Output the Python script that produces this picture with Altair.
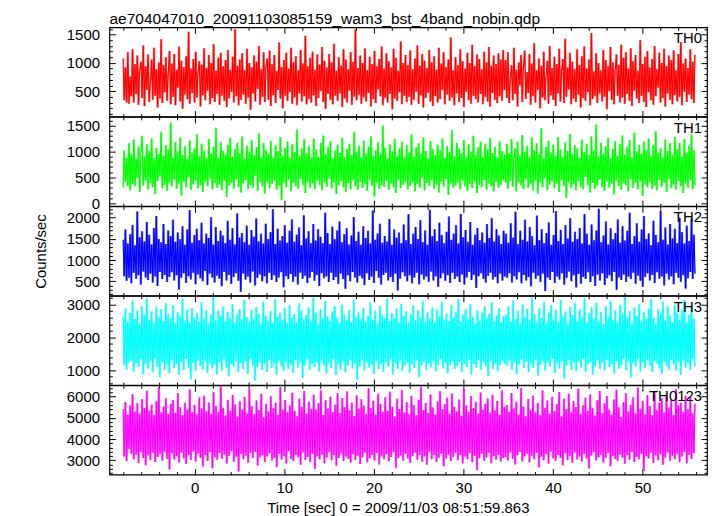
import altair as alt
import numpy as np
import pandas as pd

TITLE = "ae704047010_20091103085159_wam3_bst_4band_nobin.qdp"
X_TITLE = "Time [sec] 0 = 2009/11/03 08:51:59.863"
Y_TITLE = "Counts/sec"
FONT = "Liberation Sans"
T_START, T_END = -8.0, 55.87

th0 = [1080, 340, 920, 300, 1190, 280, 760, 410, 1240, 300, 980, 450, 1130, 260, 870, 1020, 380, 1310, 240, 940, 520,
       1150, 310, 690, 1060, 350, 1270, 420, 890, 210, 1010, 370, 1420, 290, 960, 480, 1100, 330, 830, 1210, 270,
       990, 400, 1160, 250, 880, 560, 1290, 320, 1040, 190, 930, 440, 1120, 360, 1550, 280, 900, 470, 1070, 300,
       1200, 390, 850, 1030, 230, 970, 430, 1260, 340, 910, 510, 1140, 270, 1000, 380, 1330, 310, 860, 450, 1090,
       260, 1180, 420, 940, 330, 1050, 220, 1230, 370, 880, 490, 1110, 300, 1600, 410, 950, 250, 1060, 350, 1170,
       440, 870, 280, 1250, 390, 1000, 170, 920, 460, 1130, 320, 1020, 540, 1300, 260, 890, 400, 1190, 310, 960,
       1080, 350, 1220, 240, 980, 430, 1140, 290, 860, 520, 1360, 370, 930, 200, 1050, 420, 1180, 330, 900, 480,
       1270, 280, 1010, 390, 1120, 250, 870, 460, 1230, 320, 990, 410, 1480, 270, 940, 360, 1090, 300, 1200, 430,
       880, 240, 1150, 380, 970, 500, 1280, 310, 1040, 190, 920, 450, 1160, 350, 1010, 270, 1340, 420, 860, 330,
       1100, 460, 950, 220, 1240, 370, 1060, 300, 890, 510, 1190, 260, 1020, 400, 1590, 340, 910, 440, 1130, 280,
       1000, 390, 1260, 320, 870, 470, 1110, 230, 980, 360, 1210, 290, 940, 530, 1070, 410, 1290, 250, 900, 380,
       1170, 300, 1030, 450, 920, 180, 1250, 370, 1090, 330, 860, 480, 1380, 270, 1000, 420, 1140, 310, 960, 400,
       1220, 260, 890, 350, 1080, 490, 1310, 280, 950, 430, 1160, 210, 1040, 380, 910, 470, 1230, 320, 1010, 240,
       1120, 410, 880, 300, 1270, 360, 990, 520, 1190, 270, 930, 440, 1060, 330, 1450, 390, 870, 250, 1100, 460,
       960, 310, 1240, 380, 1030, 220, 900, 490, 1180, 340, 1000, 280, 1320, 420, 940, 360, 1150, 300, 1070, 450,
       890, 270, 1200, 400, 1010, 320, 1280, 230, 950, 470, 1130, 350, 980, 290, 1170, 410, 1060, 330, 1230, 520,
       1050, 380, 1190, 290, 720, 960, 340, 1270, 450, 880, 230, 1010, 600, 1140, 310, 930, 1220, 360, 840, 470,
       1160, 260, 990, 410, 1350, 300, 870, 520, 1080, 200, 950, 390, 1200, 340, 780, 1040, 280, 1300, 430, 910,
       350, 1110, 240, 980, 460, 1250, 320, 860, 1070, 290, 1430, 400, 920, 530, 1180, 270, 1020, 370, 890, 310,
       1240, 440, 960, 210, 1120, 380, 1290, 330, 900, 480, 1060, 250, 1530, 360, 850, 410, 1170, 290, 1000, 460,
       870, 320, 1230, 400, 1050, 180, 940, 500, 1280, 350, 1010, 270, 880, 1150, 420, 970, 300, 1320, 390, 1090,
       280, 1190, 450, 900, 330, 1260, 240, 1030, 510, 1140, 370, 860, 290, 1400, 420, 980, 310, 1110, 220, 1210,
       480, 920, 340, 1070, 260, 1300, 410, 890, 560, 1180, 300, 1000, 380, 1250, 230, 940, 460, 1130, 350, 1050,
       270, 1220, 430, 870, 320, 1160, 400, 1370, 250, 990, 490, 1080, 310, 910, 440, 1240, 360, 1020, 290, 1140]

th1 = [300, 1020, 410, 880, 330, 1160, 250, 940, 370, 1230, 330, 860, 490, 1090, 220, 980, 1300, 350, 900, 440, 1140,
       270, 1010, 390, 1250, 310, 870, 180, 1070, 430, 950, 520, 1380, 290, 920, 360, 1120, 240, 1040, 400, 1560,
       330, 890, 460, 1180, 280, 1000, 380, 1270, 150, 930, 420, 1100, 310, 860, 500, 1210, 260, 980, 370, 1060,
       440, 1330, 290, 910, 350, 1150, 220, 1020, 410, 870, 330, 1240, 480, 960, 270, 1090, 390, 1460, 300, 880,
       360, 1180, 250, 1010, 430, 940, 120, 1130, 340, 1260, 400, 900, 280, 1050, 460, 1170, 320, 970, 210, 1290,
       380, 860, 450, 1110, 270, 1000, 350, 1220, 300, 930, 530, 1080, 240, 1350, 410, 890, 330, 1160, 190, 1030,
       420, 950, 290, 1200, 370, 880, 440, 1120, 260, 1010, 340, 1280, 60, 920, 400, 1070, 310, 1190, 460, 870,
       230, 1140, 390, 990, 330, 1420, 280, 910, 470, 1060, 350, 1230, 200, 960, 420, 1100, 300, 880, 380, 1250,
       270, 1040, 440, 900, 360, 1170, 250, 1310, 410, 940, 320, 1080, 480, 1200, 290, 870, 400, 1020, 180, 1130,
       350, 970, 430, 1260, 310, 890, 220, 1050, 390, 1150, 270, 930, 450, 1370, 330, 1000, 260, 1110, 410, 880,
       300, 1210, 370, 960, 240, 1090, 460, 1290, 340, 910, 130, 1030, 400, 1180, 280, 940, 350, 1500, 320, 1070,
       430, 870, 260, 1140, 380, 1000, 310, 1240, 200, 920, 450, 1060, 290, 1190, 360, 890, 420, 1120, 270, 980,
       340, 1330, 410, 900, 230, 1080, 370, 1160, 300, 950, 490, 1270, 250, 1010, 390, 870, 330, 1200, 440, 1050,
       280, 930, 360, 1130, 210, 1020, 420, 1250, 320, 880, 470, 1100, 160, 990, 380, 1410, 300, 910, 350, 1170,
       400, 1060, 270, 960, 440, 1220, 330, 890, 240, 1140, 370, 1000, 290, 1300, 420, 930, 200, 1080, 360, 1190,
       310, 900, 450, 1150, 260, 1040, 380, 1260, 330, 970, 230, 1090, 410, 880, 300, 1200, 350, 1010, 440, 940,
       390, 1150, 280, 970, 430, 1240, 320, 880, 1060, 230, 1190, 410, 930, 350, 1320, 270, 1000, 460, 1110, 300,
       890, 370, 1270, 250, 1030, 440, 1160, 190, 950, 400, 1450, 310, 870, 480, 1090, 260, 1210, 360, 980, 420,
       1130, 290, 920, 380, 1280, 220, 1040, 450, 900, 330, 1180, 100, 1010, 410, 1340, 300, 940, 370, 1120, 250,
       1060, 430, 880, 320, 1230, 270, 990, 510, 1150, 350, 930, 210, 1290, 390, 1020, 280, 1520, 340, 900, 460,
       1170, 310, 960, 240, 1100, 420, 1260, 300, 870, 380, 1050, 170, 1200, 440, 920, 330, 1140, 260, 1310, 400,
       940, 350, 1080, 230, 1220, 470, 890, 300, 1360, 390, 1000, 270, 1130, 420, 960, 140, 1190, 360, 1040, 310,
       1250, 410, 910, 280, 1120, 340, 1390, 250, 980, 450, 1070, 320, 880, 390, 1230, 220, 1010, 470, 1160, 290,
       930, 360, 1280, 260, 1050, 430, 1170, 330, 900, 200, 1240, 380, 970, 300, 1110, 440, 1330, 270, 1020, 350]

th2 = [1480, 620, 1720, 510, 1390, 580, 1610, 450, 1830, 700, 1350, 560, 2150, 640, 1540, 420, 1680, 730, 1440, 590, 1900,
       530, 1600, 680, 1370, 470, 1760, 610, 2040, 390, 1500, 720, 1420, 550, 1850, 650, 1380, 480, 1700, 600, 1560,
       710, 1950, 520, 1430, 640, 1650, 300, 1490, 580, 1800, 690, 1360, 460, 1720, 620, 2180, 540, 1410, 700, 1590,
       430, 1740, 660, 1470, 570, 1880, 500, 1390, 740, 1620, 410, 1520, 680, 2010, 590, 1360, 470, 1780, 630, 1450,
       560, 1690, 380, 1580, 720, 1400, 520, 1930, 650, 1480, 440, 1750, 600, 1370, 690, 2100, 510, 1530, 250, 1640,
       680, 1420, 540, 1810, 610, 1360, 470, 1710, 730, 1550, 400, 1980, 580, 1440, 660, 1620, 500, 1390, 620, 1860,
       450, 1500, 700, 1660, 530, 2200, 640, 1380, 480, 1740, 590, 1460, 710, 1570, 360, 1820, 620, 1410, 550, 1690,
       670, 1960, 490, 1430, 610, 1600, 420, 1770, 700, 1350, 560, 2060, 630, 1510, 460, 1680, 580, 1400, 720, 1850,
       510, 1460, 650, 1730, 390, 1550, 690, 1400, 570, 2120, 620, 1640, 480, 1380, 700, 1790, 530, 1490, 600, 1700,
       440, 1910, 680, 1420, 550, 1610, 320, 1750, 640, 1370, 500, 1580, 720, 2020, 590, 1450, 470, 1670, 630, 1360,
       570, 1800, 410, 1520, 690, 1690, 530, 1390, 610, 2170, 460, 1480, 740, 1630, 580, 1860, 420, 1410, 650, 1570,
       700, 1440, 520, 1970, 600, 1360, 480, 1720, 680, 1530, 280, 1650, 560, 1400, 710, 1840, 620, 1470, 500, 2080,
       640, 1380, 450, 1620, 590, 1780, 700, 1500, 430, 1940, 660, 1420, 540, 1700, 610, 1360, 490, 2190, 730, 1560,
       520, 1730, 620, 1450, 370, 1880, 570, 1590, 690, 1400, 510, 1670, 640, 2030, 460, 1480, 700, 1620, 550, 1820,
       610, 1390, 480, 2090, 660, 1540, 420, 1710, 590, 1430, 720, 1900, 530, 1360, 650, 1600, 340, 1760, 620, 1470,
       690, 1650, 560, 1410, 470, 1850, 630, 1520, 700, 1990, 540, 1440, 600, 1730, 450, 1580, 680, 1380, 520, 1690,
       610, 1620, 580, 1410, 690, 1870, 470, 1530, 620, 2140, 540, 1380, 710, 1690, 450, 1480, 650, 1950, 520, 1440, 600,
       1780, 380, 1560, 700, 1350, 560, 2050, 630, 1470, 490, 1730, 680, 1400, 270, 1640, 590, 1890, 530, 1360, 720,
       1590, 460, 2160, 610, 1450, 540, 1710, 690, 1380, 420, 1820, 580, 1510, 730, 1990, 500, 1430, 640, 1670, 350,
       1500, 670, 1760, 440, 1390, 600, 2080, 550, 1620, 710, 1360, 480, 1840, 620, 1470, 390, 1700, 660, 2210, 520,
       1420, 690, 1580, 410, 1910, 570, 1370, 640, 1750, 500, 1490, 720, 1640, 300, 1960, 590, 1410, 530, 1800, 660,
       1460, 480, 1690, 610, 2120, 550, 1380, 700, 1560, 440, 1870, 630, 1430, 510, 1720, 370, 2040, 600, 1500, 690,
       1630, 520, 1350, 650, 1930, 460, 1590, 710, 1420, 560, 2170, 610, 1480, 400, 1770, 680, 1370, 540, 1850, 620,
       1510, 430, 1740, 700, 1400, 580, 2000, 490, 1660, 640, 1390, 330, 1810, 570, 1450, 720, 1980, 550, 1600, 680]

th3 = [2620, 1150, 2880, 1020, 2470, 1240, 2750, 1280, 3120, 960, 2560, 1210, 2830, 1090, 2400, 1330, 2960, 880, 2680, 1180, 3200,
       1040, 2540, 1260, 2790, 930, 2450, 1350, 2920, 1100, 2610, 780, 2860, 1230, 2500, 1010, 3050, 1170, 2720, 900, 2580,
       1300, 2990, 1060, 2430, 1190, 2770, 850, 2640, 1250, 3180, 1000, 2510, 1340, 2850, 1080, 2460, 720, 2900, 1220, 2600,
       970, 2740, 1290, 2480, 1130, 3070, 1020, 2570, 1270, 2820, 910, 2420, 1200, 2690, 1050, 3230, 1160, 2530, 870, 2810,
       1240, 2650, 990, 2940, 1320, 2490, 1070, 2780, 820, 2590, 1180, 3010, 1110, 2440, 1280, 2700, 950, 2870, 1210, 2550,
       1030, 3150, 1260, 2620, 890, 2480, 1340, 2840, 1150, 2560, 680, 2930, 1090, 2720, 1230, 2410, 1000, 3090, 1190, 2660,
       940, 2510, 1310, 2800, 1060, 2450, 1200, 3170, 860, 2630, 1270, 2750, 1120, 2520, 980, 2890, 1250, 2430, 1040, 2980,
       1170, 2590, 910, 2710, 1300, 2470, 1080, 3040, 1220, 2820, 760, 2550, 1140, 2680, 1330, 2910, 1010, 2490, 1190, 3220,
       1090, 2760, 1240, 2420, 960, 2860, 1280, 2580, 1130, 3100, 900, 2640, 1210, 2500, 1060, 2790, 1320, 2950, 840, 2610,
       1180, 2450, 1020, 3000, 1260, 2700, 930, 2530, 1140, 2840, 1290, 2470, 1050, 3140, 1200, 2620, 700, 2770, 1110, 2560,
       1300, 2900, 990, 2480, 1230, 2660, 1070, 3060, 1160, 2540, 880, 2810, 1270, 2430, 1030, 2960, 1190, 2690, 950, 2600,
       1250, 3190, 1100, 2510, 1320, 2740, 870, 2580, 1210, 2880, 1040, 2460, 1280, 3030, 980, 2650, 1150, 2800, 1230, 2440,
       920, 2700, 1190, 2970, 1060, 2520, 1300, 2830, 790, 2610, 1140, 3110, 1250, 2480, 1010, 2760, 1200, 2570, 1080, 2920,
       1270, 2450, 960, 2850, 1170, 2640, 1330, 3080, 1050, 2530, 1220, 2710, 900, 2490, 1150, 2990, 1260, 2600, 1030, 2780,
       1120, 3160, 1240, 2470, 940, 2690, 1190, 2860, 1090, 2550, 1310, 3020, 860, 2630, 1180, 2420, 1070, 2820, 1290, 2510,
       1000, 2750, 1230, 2940, 1110, 2580, 820, 2720, 1260, 3070, 1040, 2500, 1200, 2670, 970, 2890, 1150, 2460, 1280, 2640,
       1190, 2690, 1140, 2950, 1290, 2480, 1010, 3130, 1220, 2560, 880, 2810, 1180, 2440, 1320, 3000, 1060, 2620, 1250, 2870, 940,
       2520, 1200, 3210, 1070, 2700, 1310, 2460, 830, 2890, 1160, 2590, 1270, 3080, 990, 2430, 1230, 2760, 1100, 2980, 1340,
       2550, 910, 2840, 1190, 2470, 1050, 3150, 1280, 2640, 750, 2790, 1130, 2420, 1300, 2930, 1020, 2680, 1210, 3040, 970,
       2500, 1260, 2850, 1080, 2610, 1330, 3190, 950, 2450, 1170, 2740, 1240, 2920, 860, 2570, 1120, 3060, 1290, 2480, 1030,
       2780, 1220, 2410, 990, 2960, 1310, 2630, 1090, 3110, 1180, 2530, 900, 2820, 1260, 2460, 1040, 2990, 1150, 2710, 1330,
       3230, 1000, 2580, 1270, 2800, 770, 2440, 1200, 2910, 1110, 2650, 1320, 3020, 960, 2490, 1240, 2770, 1060, 2560, 1300,
       2880, 1130, 3170, 930, 2600, 1280, 2430, 1190, 2860, 1050, 2720, 890, 3090, 1250, 2510, 1140, 2940, 1020, 2670, 1310,
       2470, 1170, 3000, 980, 2750, 1230, 2540, 850, 2830, 1290, 3140, 1080, 2450, 1210, 2690, 1000, 2970, 1330, 2580, 1120]

th0123 = [5420, 3180, 5750, 2950, 5160, 3530, 5580, 3310, 6120, 3040, 5300, 3260, 5690, 2870, 5210, 3390, 5880, 3100, 5470, 2760, 6280,
          3220, 5350, 3000, 5620, 3350, 5140, 2910, 5790, 3150, 6430, 3280, 5260, 2980, 5540, 3400, 5930, 3070, 5180, 2560, 5660,
          3320, 5850, 3030, 5240, 3190, 6170, 2890, 5500, 3360, 5130, 3080, 5720, 2820, 5400, 3250, 6340, 3010, 5280, 3410, 5610,
          2940, 5170, 3300, 5960, 3120, 5440, 2700, 6050, 3230, 5310, 2960, 5730, 3380, 5190, 2620, 6210, 3140, 5560, 3020, 5270,
          3340, 6510, 3060, 5480, 3270, 5110, 2840, 5840, 3200, 5350, 3420, 6080, 2930, 5630, 3160, 5060, 2470, 5780, 3290, 5400,
          3050, 5990, 3210, 5220, 2880, 6370, 3350, 5550, 3090, 5180, 3400, 5820, 2750, 5370, 3130, 6130, 3240, 5030, 2910, 5670,
          3170, 5300, 3330, 6020, 2990, 5460, 3100, 5710, 2680, 5150, 3290, 6460, 3030, 5390, 3200, 5850, 2850, 5260, 3410, 5590,
          3060, 6190, 2960, 5320, 3240, 5080, 3140, 5910, 2780, 5510, 3370, 6270, 3010, 5210, 3160, 5760, 2920, 5430, 3310, 6090,
          2590, 5380, 3180, 5690, 3050, 6310, 3270, 5140, 2860, 5830, 3130, 5460, 3390, 6000, 3000, 5280, 3230, 5620, 2740, 6170,
          3100, 5230, 3320, 5940, 2970, 5500, 3160, 6250, 3070, 5350, 2890, 5720, 3280, 5090, 3010, 6060, 3210, 5440, 2820, 5880,
          3140, 5580, 3360, 5200, 2900, 6400, 3090, 5470, 3250, 5810, 2990, 5160, 3340, 6140, 2800, 5650, 3190, 5290, 3040, 5970,
          3280, 5340, 2950, 6230, 3150, 5520, 3380, 5070, 2640, 5900, 3110, 5420, 3220, 6320, 2980, 5250, 3300, 5740, 3080, 5180,
          2870, 6040, 3190, 5610, 3350, 5120, 3020, 5860, 3260, 6480, 2930, 5370, 3170, 5700, 2790, 5230, 3400, 6110, 3060, 5490,
          3230, 5160, 2910, 5780, 3120, 6260, 3310, 5410, 2710, 5640, 3080, 5950, 3270, 5200, 2960, 6150, 3150, 5530, 3360, 5310,
          3000, 5870, 3240, 5100, 2840, 6350, 3180, 5580, 3050, 5260, 3330, 6030, 2900, 5450, 3210, 5760, 2530, 5190, 3090, 6200,
          3290, 5400, 2980, 5670, 3130, 5920, 3350, 5240, 2860, 6090, 3200, 5360, 3020, 5800, 3260, 5150, 2940, 6300, 3110, 5520,
          3150, 5610, 2990, 5290, 3370, 6180, 3070, 5440, 2800, 5760, 3230, 5160, 3390, 6410, 2950, 5530, 3180, 5080, 3300, 5890,
          2900, 5370, 3210, 6060, 3040, 5250, 3350, 5700, 2660, 5120, 3160, 6290, 3000, 5480, 3280, 5820, 2850, 5200, 3400, 6000,
          3090, 5330, 2970, 5640, 3250, 6220, 3120, 5060, 2760, 5910, 3320, 5420, 3010, 6140, 3190, 5270, 2880, 5780, 3360, 5510,
          3030, 6380, 3170, 5190, 2940, 5600, 3290, 5950, 3080, 5340, 2610, 6100, 3220, 5460, 3380, 5110, 2990, 5830, 3140, 6270,
          3260, 5230, 2890, 5690, 3110, 6030, 3340, 5390, 2720, 5150, 3200, 5870, 3060, 6330, 2960, 5500, 3270, 5040, 3130, 5740,
          2830, 6160, 3240, 5300, 3020, 5620, 3390, 5980, 2920, 5210, 3150, 6440, 3050, 5430, 3310, 5800, 2490, 5170, 3190, 6070,
          3080, 5560, 3350, 5120, 2870, 6240, 3230, 5370, 3000, 5710, 3280, 5930, 2780, 5260, 3120, 6120, 3360, 5490, 2970, 5850,
          3210, 5140, 3040, 6350, 3300, 5580, 2910, 5720, 3170, 5280, 3390, 6050, 2860, 5410, 3250, 5960, 3060, 5220, 3330, 5670]

names = ["TH0", "TH1", "TH2", "TH3", "TH0123"]
series = [th0, th1, th2, th3, th0123]
colors = ["#ff0000", "#00ff00", "#0000ff", "#00ffff", "#ff00ff"]
y_domains = [[50, 1630], [-55, 1670], [160, 2270], [540, 3270], [2320, 6540]]
y_ticks = [list(range(100, 1601, 100)), list(range(0, 1601, 100)), list(range(200, 2201, 100)),
           list(range(600, 3201, 200)), list(range(2400, 6401, 200))]
y_major = [500, 500, 500, 1000, 1000]

x_domain = [-9.52, 57.2]
x_ticks = list(range(-8, 57, 2))
x_major = 10

W = 601
H = 89.8
MAJ = 6
MIN = 3


def tick_expr(major):
    return alt.ExprRef(f"datum.value % {major} === 0 ? -{MAJ} : -{MIN}")


def label_expr(major):
    return f"datum.value % {major} === 0 ? datum.label : ''"


def panel(i):
    vals = series[i]
    df = pd.DataFrame({"t": np.linspace(T_START, T_END, len(vals)), "v": vals})
    df["vn"] = df["v"].shift(-1).fillna(df["v"])
    last = i == len(names) - 1
    xs = alt.Scale(domain=x_domain, nice=False, zero=False)
    ys = alt.Scale(domain=y_domains[i], nice=False, zero=False)

    hidden = dict(domain=False, grid=False, labels=False, title=None, minExtent=0, maxExtent=0)
    if last:
        xb = alt.Axis(orient="bottom", values=x_ticks, tickSize=tick_expr(x_major), domain=False, grid=False,
                      labelOverlap=False, labelFlush=False, title=X_TITLE, labels=True,
                      labelExpr=label_expr(x_major), labelPadding=12, titlePadding=2, titleX=290, format="d")
    else:
        xb = alt.Axis(orient="bottom", values=x_ticks, tickSize=tick_expr(x_major), **hidden)
    xt = alt.Axis(orient="top", values=x_ticks, tickSize=tick_expr(x_major), **hidden)

    yl_kwargs = dict(orient="left", values=y_ticks[i], tickSize=tick_expr(y_major[i]), domain=False, grid=False,
                     labelExpr=label_expr(y_major[i]), labelPadding=16, labelOverlap=False, labelFlush=False,
                     format="d")
    if i == 2:
        yl = alt.Axis(title=Y_TITLE, titleX=-61, titleY=H / 2, **yl_kwargs)
    else:
        yl = alt.Axis(title=None, **yl_kwargs)
    yr = alt.Axis(orient="right", values=y_ticks[i], tickSize=tick_expr(y_major[i]), **hidden)

    base = alt.Chart(df)
    band = base.mark_area(color=colors[i], opacity=0.6, clip=True, interpolate="step-after").encode(
        x=alt.X("t:Q", scale=xs, axis=xb),
        y=alt.Y("v:Q", scale=ys, axis=yl),
        y2="vn:Q",
    )
    line = base.mark_line(color=colors[i], strokeWidth=1.1, clip=True).encode(
        x=alt.X("t:Q", scale=xs, axis=xt),
        y=alt.Y("v:Q", scale=ys, axis=yr),
    )
    label = alt.Chart(pd.DataFrame({"name": [names[i]]})).mark_text(
        align="right", baseline="middle", fontSize=15, font=FONT, color="black"
    ).encode(x=alt.value(W - 5), y=alt.value(11), text="name:N")

    ch = alt.layer(band, line, label).resolve_axis(x="independent", y="independent").properties(width=W, height=H)
    if i == 0:
        ch = ch.properties(title=alt.TitleParams(TITLE, anchor="start", frame="group", fontSize=15.6,
                                                 fontWeight="normal", font=FONT, color="black", offset=-6))
    return ch


chart = alt.vconcat(*[panel(i) for i in range(len(names))], spacing=0, bounds="flush").properties(
    padding={"left": 25, "top": 2, "right": 0, "bottom": 0}
).configure_view(stroke="black", strokeWidth=1.2).configure_axis(
    tickColor="black", tickWidth=1, labelFont=FONT, titleFont=FONT, labelFontSize=15, titleFontSize=15,
    titleFontWeight="normal", labelColor="black", titleColor="black"
)

chart.save("out.html", embed_options={"renderer": "svg", "actions": False})
